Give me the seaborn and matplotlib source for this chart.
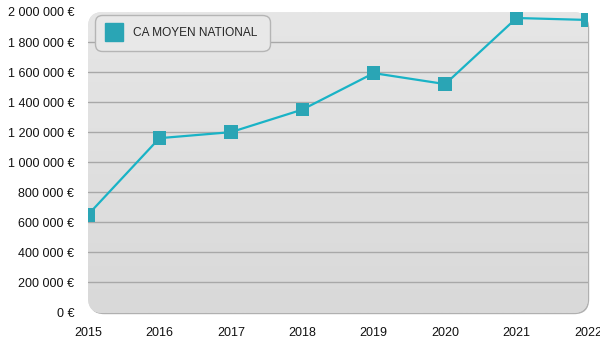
import matplotlib
matplotlib.use("Agg")
import matplotlib.pyplot as plt
import matplotlib.transforms as mtransforms
import seaborn as sns
import numpy as np
import pandas as pd
from matplotlib.patches import FancyBboxPatch
from matplotlib.lines import Line2D

years = [2015, 2016, 2017, 2018, 2019, 2020, 2021, 2022]
ca_moyen = [650000, 1160000, 1200000, 1350000, 1593000, 1520000, 1960000, 1947000]
series_label = "CA MOYEN NATIONAL"
y_ticks = [0, 200000, 400000, 600000, 800000, 1000000, 1200000, 1400000, 1600000, 1800000, 2000000]

sns.set_theme(style="white")
plt.rcParams['font.family'] = ['Liberation Sans', 'DejaVu Sans']

df = pd.DataFrame({"year": years, "ca": ca_moyen})

fig = plt.figure(figsize=(6, 3.5), dpi=100)
ax = fig.add_axes([88/600, 1 - 313/350, 500/600, 301/350])
ax.set_facecolor("none")
for s in ax.spines.values():
    s.set_visible(False)

# shadow (bottom/right edge) then rounded background with gradient
shadow_tr = ax.transAxes + mtransforms.ScaledTranslation(1.2/100, -1.2/100, fig.dpi_scale_trans)
shadow = FancyBboxPatch((0, 0), 1, 1, boxstyle="round,pad=0,rounding_size=0.03",
                        transform=shadow_tr, facecolor="#b0b0b0", edgecolor="none",
                        zorder=0.1, mutation_aspect=500/301, clip_on=False)
ax.add_patch(shadow)
bg = FancyBboxPatch((0, 0), 1, 1, boxstyle="round,pad=0,rounding_size=0.03",
                    transform=ax.transAxes, facecolor="#e0e0e0", edgecolor="none",
                    zorder=0.15, mutation_aspect=500/301, clip_on=False)
ax.add_patch(bg)
grad = np.linspace(0, 1, 256).reshape(-1, 1)
im = ax.imshow(grad, extent=[0, 1, 0, 1], transform=ax.transAxes, aspect="auto",
               cmap=matplotlib.colors.LinearSegmentedColormap.from_list("g", ["#d9d9d9", "#e6e6e6"]),
               origin="lower", zorder=0.2)
im.set_clip_path(bg)
ax.set_xlim(2015, 2022)
ax.set_ylim(-4000, 2000000)

for t in y_ticks[1:-1]:
    ax.axhline(t, color="#a8a8a8", lw=1.0, zorder=1)

sns.lineplot(data=df, x="year", y="ca", ax=ax, color="#19b3c6", lw=1.6, zorder=3, legend=False)
ax.scatter(df["year"], df["ca"], marker="s", s=95, color="#2aa5b5",
           edgecolor="none", zorder=4, clip_on=True)

ax.set_yticks(y_ticks)
ax.set_yticklabels([f"{v:,}".replace(",", " ") + " €" for v in y_ticks], fontsize=9, color="#111111")
ax.set_xticks(years)
ax.set_xticklabels([str(y) for y in years], fontsize=9, color="#111111")
ax.tick_params(axis="y", length=0, pad=10)
ax.tick_params(axis="x", length=0, pad=10)
ax.set_xlabel("")
ax.set_ylabel("")

handle = Line2D([], [], marker="s", linestyle="none", markersize=13,
                markerfacecolor="#2aa5b5", markeredgecolor="#2aa5b5")
leg = ax.legend([handle], [series_label], loc="upper left", bbox_to_anchor=(7/500, 1 - 3/301),
                borderaxespad=0, frameon=True, fancybox=True, shadow=False,
                fontsize=8.6, handletextpad=1.0, borderpad=1.0, handlelength=1.2)
frame = leg.get_frame()
frame.set_facecolor("#e8e8e8")
frame.set_edgecolor("#b5b5b5")
frame.set_alpha(1)
frame.set_boxstyle("round,pad=0,rounding_size=0.6")
leg.set_zorder(5)

fig.savefig("out.png", dpi=100)
